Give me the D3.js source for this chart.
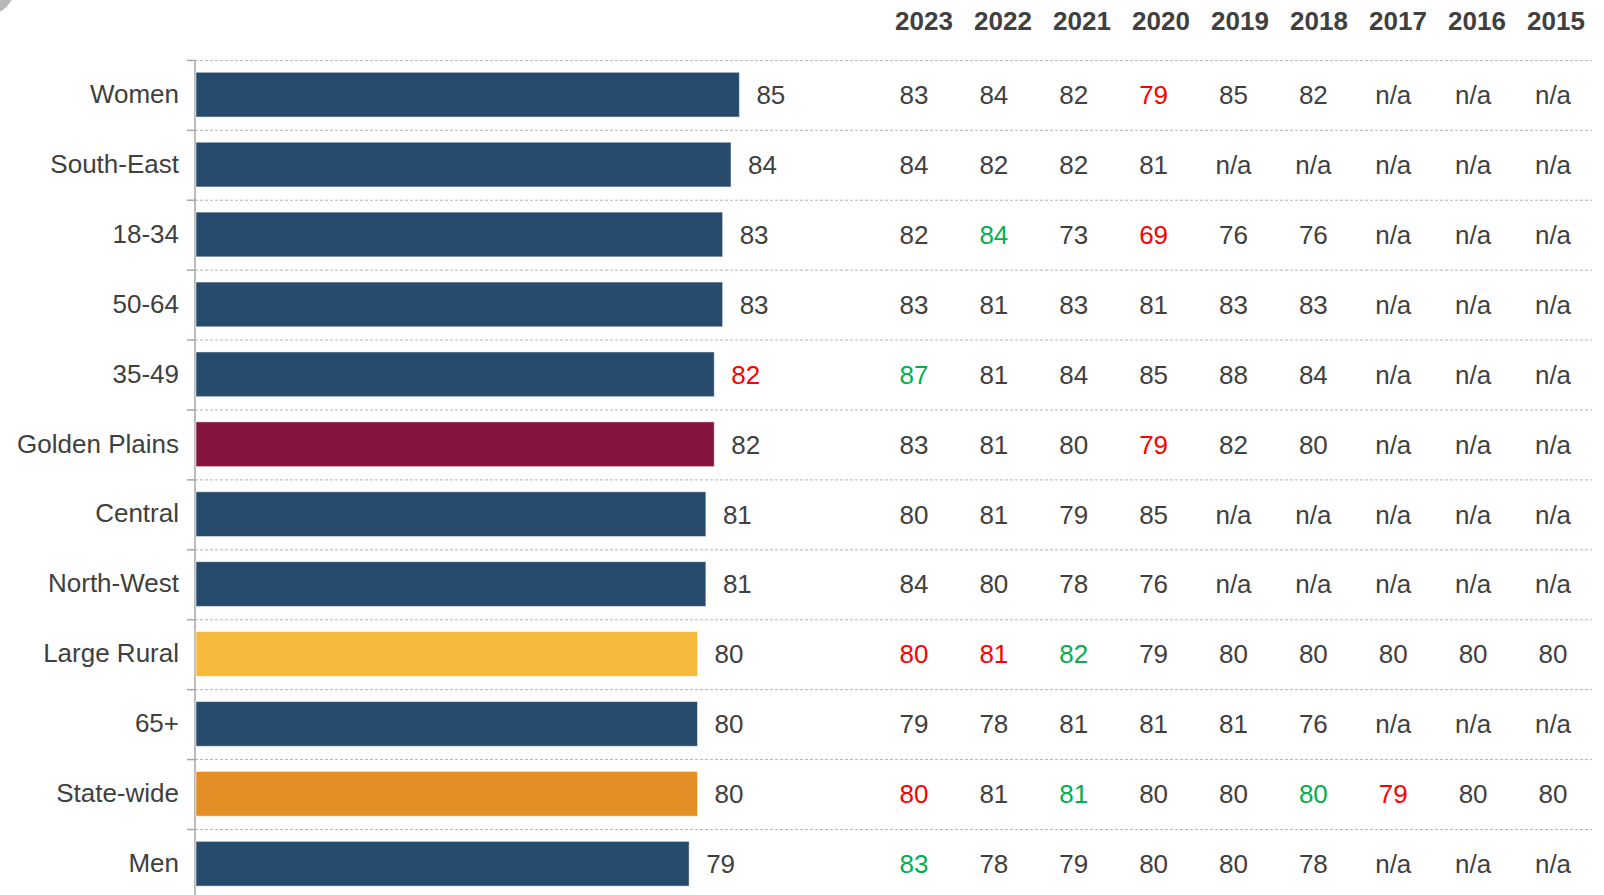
<!DOCTYPE html>
<html>
<head>
<meta charset="utf-8">
<script src="https://cdn.jsdelivr.net/npm/d3@7"></script>
<style>
  html, body { margin: 0; padding: 0; background: #ffffff; }
  svg { display: block; font-family: "Liberation Sans", Arial, sans-serif; }
</style>
</head>
<body>
<svg id="chart" width="1604" height="895"></svg>
<script>
// Categories, top to bottom
const categories = ["Women", "South-East", "18-34", "50-64", "35-49", "Golden Plains",
  "Central", "North-West", "Large Rural", "65+", "State-wide", "Men"];

// Current index score per category
const currentScores = [85, 84, 83, 83, 82, 82, 81, 81, 80, 80, 80, 79];

// Kind of each category (drives bar colour)
const categoryKinds = ["group", "group", "group", "group", "group", "council",
  "group", "group", "largeRural", "group", "state", "group"];

// Significance of the current score: 1 higher, -1 lower, 0 none
const currentSignificance = [0, 0, 0, 0, -1, 0, 0, 0, 0, 0, 0, 0];

// Past years shown in the table
const years = ["2023", "2022", "2021", "2020", "2019", "2018", "2017", "2016", "2015"];

// Past scores, one row per category (null = n/a)
const pastScores = [
  [83, 84, 82, 79, 85, 82, null, null, null],
  [84, 82, 82, 81, null, null, null, null, null],
  [82, 84, 73, 69, 76, 76, null, null, null],
  [83, 81, 83, 81, 83, 83, null, null, null],
  [87, 81, 84, 85, 88, 84, null, null, null],
  [83, 81, 80, 79, 82, 80, null, null, null],
  [80, 81, 79, 85, null, null, null, null, null],
  [84, 80, 78, 76, null, null, null, null, null],
  [80, 81, 82, 79, 80, 80, 80, 80, 80],
  [79, 78, 81, 81, 81, 76, null, null, null],
  [80, 81, 81, 80, 80, 80, 79, 80, 80],
  [83, 78, 79, 80, 80, 78, null, null, null]
];

// Significance of past scores: 1 higher, -1 lower, 0 none
const pastSignificance = [
  [0, 0, 0, -1, 0, 0, 0, 0, 0],
  [0, 0, 0, 0, 0, 0, 0, 0, 0],
  [0, 1, 0, -1, 0, 0, 0, 0, 0],
  [0, 0, 0, 0, 0, 0, 0, 0, 0],
  [1, 0, 0, 0, 0, 0, 0, 0, 0],
  [0, 0, 0, -1, 0, 0, 0, 0, 0],
  [0, 0, 0, 0, 0, 0, 0, 0, 0],
  [0, 0, 0, 0, 0, 0, 0, 0, 0],
  [-1, -1, 1, 0, 0, 0, 0, 0, 0],
  [0, 0, 0, 0, 0, 0, 0, 0, 0],
  [-1, 0, 1, 0, 0, 1, -1, 0, 0],
  [1, 0, 0, 0, 0, 0, 0, 0, 0]
];

const svg = d3.select("#chart");
const textColor = "#404040";
const sigColor = s => s > 0 ? "#00b050" : s < 0 ? "#ff0000" : textColor;

const barColor = d3.scaleOrdinal()
  .domain(["group", "council", "largeRural", "state"])
  .range(["#274b6c", "#85153f", "#f5b93c", "#e48f25"]);

const axisX = 195;
const plotTop = 60.4;
const rowStep = 69.8;

const x = d3.scaleLinear().domain([20, 100]).range([axisX, axisX + 670]);
const y = d3.scaleBand()
  .domain(categories)
  .range([plotTop, plotTop + rowStep * categories.length])
  .paddingInner(0.36)
  .paddingOuter(0.17);

const rowTop = c => y(c) - y.paddingOuter() * y.step();
const rowMid = c => y(c) + y.bandwidth() / 2;

// Corner decoration
svg.append("circle")
  .attr("cx", -16).attr("cy", -16).attr("r", 32)
  .attr("fill", "#b8b8b8");

// Dashed row separators
svg.append("g")
  .selectAll("line")
  .data(categories)
  .join("line")
  .attr("x1", axisX).attr("x2", 1592)
  .attr("y1", c => rowTop(c)).attr("y2", c => rowTop(c))
  .attr("stroke", "#b3b3b3")
  .attr("stroke-width", 1)
  .attr("stroke-dasharray", "3,2");

// Category axis
const yAxis = d3.axisLeft(y).tickSize(0).tickPadding(16).tickSizeOuter(0);
const axisG = svg.append("g").attr("transform", `translate(${axisX},0)`).call(yAxis);
axisG.select(".domain").attr("stroke", "#a6a6a6").attr("stroke-width", 1.5)
  .attr("d", `M0,${plotTop}V895`);
axisG.selectAll(".tick text")
  .attr("font-size", 26)
  .attr("fill", textColor)
  .attr("dy", "0.32em")
  .attr("font-family", "'Liberation Sans', Arial, sans-serif");

// Tick marks at row boundaries
axisG.append("g")
  .selectAll("line")
  .data(categories)
  .join("line")
  .attr("x1", -8).attr("x2", 0)
  .attr("y1", c => rowTop(c)).attr("y2", c => rowTop(c))
  .attr("stroke", "#a6a6a6")
  .attr("stroke-width", 1.5);

// Bars
svg.append("g")
  .selectAll("rect")
  .data(categories)
  .join("rect")
  .attr("x", x(20) + 1)
  .attr("y", c => y(c))
  .attr("width", (c, i) => x(currentScores[i]) - x(20) - 1)
  .attr("height", y.bandwidth())
  .attr("fill", (c, i) => barColor(categoryKinds[i]))
  .attr("stroke", "#ffffff")
  .attr("stroke-opacity", 0.5)
  .attr("stroke-width", 1);

// Bar value labels
svg.append("g")
  .selectAll("text")
  .data(categories)
  .join("text")
  .attr("x", (c, i) => x(currentScores[i]) + 17)
  .attr("y", c => rowMid(c))
  .attr("dy", "0.36em")
  .attr("font-size", 26)
  .attr("fill", (c, i) => sigColor(currentSignificance[i]))
  .text((c, i) => currentScores[i]);

// Year table
const headerX = d3.scalePoint().domain(years).range([924, 1556]);
const cellX = d3.scalePoint().domain(years).range([914, 1553]);

svg.append("g")
  .selectAll("text")
  .data(years)
  .join("text")
  .attr("x", d => headerX(d))
  .attr("y", 30)
  .attr("text-anchor", "middle")
  .attr("font-size", 26)
  .attr("font-weight", "bold")
  .attr("fill", textColor)
  .text(d => d);

const rows = svg.append("g")
  .selectAll("g")
  .data(categories)
  .join("g")
  .attr("transform", c => `translate(0,${rowMid(c)})`);

rows.selectAll("text")
  .data((c, i) => years.map((yr, j) => ({ yr, v: pastScores[i][j], s: pastSignificance[i][j] })))
  .join("text")
  .attr("x", d => cellX(d.yr))
  .attr("dy", "0.36em")
  .attr("text-anchor", "middle")
  .attr("font-size", 26)
  .attr("fill", d => sigColor(d.s))
  .text(d => d.v === null ? "n/a" : d.v);
</script>
</body>
</html>
